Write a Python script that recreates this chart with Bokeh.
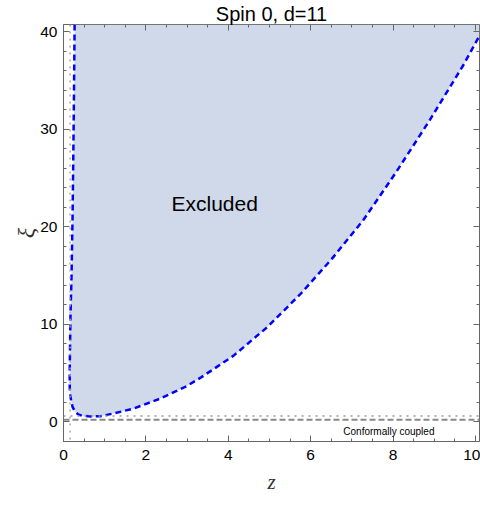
from bokeh.plotting import figure
from bokeh.models import (Range1d, LinearAxis, SingleIntervalTicker, Span, Label,
                          CustomJSTickFormatter)
from bokeh.embed import file_html
from bokeh.resources import INLINE

# ---------------- data ----------------
title_text = "Spin 0, d=11"
x_label = "z"
y_label = "ξ"
x_limits = [0.0, 10.1]
y_limits = [-2.0, 40.75]

# boundary of the excluded region (left branch top->bottom, then right branch)
boundary_z = [0.27, 0.255, 0.24, 0.22, 0.195, 0.17, 0.158, 0.15, 0.152, 0.165,
              0.19, 0.22, 0.28, 0.36, 0.45, 0.6, 0.75, 0.9, 1.2, 1.7, 2.35,
              3.0, 3.35, 3.76, 4.13, 4.94, 5.75, 6.51, 7.28, 8.09, 8.9, 9.71, 10.1]
boundary_xi = [40.75, 34.0, 28.0, 21.0, 15.0, 11.0, 7.5, 5.0, 3.5, 2.7,
               2.1, 1.55, 1.05, 0.78, 0.65, 0.58, 0.57, 0.6, 0.86, 1.37, 2.4,
               3.7, 4.6, 5.75, 6.8, 9.7, 13.1, 16.7, 20.7, 25.7, 31.0, 36.6, 39.6]

conformal_xi = 0.225
dotted_xi = 0.62
dotted_z = 0.16

excluded_text = "Excluded"
excluded_pos = [3.67, 22.4]
conformal_text = "Conformally coupled"
conformal_pos = [7.9, -1.0]

x_tick_interval = 2
x_minor = 4
y_tick_interval = 10
y_minor = 5

# ---------------- figure ----------------
p = figure(width=480, height=505,
           x_range=Range1d(*x_limits), y_range=Range1d(*y_limits),
           output_backend="svg", toolbar_location=None,
           min_border_left=63, min_border_right=1,
           min_border_top=0, min_border_bottom=64)
p.xgrid.visible = False
p.ygrid.visible = False
p.background_fill_color = "white"
p.border_fill_color = "white"
p.outline_line_color = "#666666"
p.outline_line_width = 1

p.title.text = title_text
p.title.align = "center"
p.title.text_font = "Liberation Sans"
p.title.text_font_size = "20px"
p.title.text_font_style = "normal"
p.title.text_color = "black"
p.title.standoff = 0

frame_col = "#666666"

def style_axis(ax, labels=True):
    ax.axis_line_color = frame_col
    ax.major_tick_line_color = frame_col
    ax.minor_tick_line_color = frame_col
    ax.major_tick_in = 6
    ax.major_tick_out = 0
    ax.minor_tick_in = 3
    ax.minor_tick_out = 0
    if labels:
        ax.major_label_text_font = "Liberation Sans"
        ax.major_label_text_font_size = "15.5px"
        ax.major_label_text_color = "black"
    else:
        ax.formatter = CustomJSTickFormatter(code="return ''")
        ax.major_label_text_font_size = "0px"
        ax.major_label_standoff = 0

xax = p.xaxis[0]
xax.ticker = SingleIntervalTicker(interval=x_tick_interval, num_minor_ticks=x_minor)
style_axis(xax)
xax.major_label_standoff = 8
xax.axis_label = x_label
xax.axis_label_text_font = "Liberation Serif"
xax.axis_label_text_font_style = "italic"
xax.axis_label_text_font_size = "21px"
xax.axis_label_text_color = "#333333"
xax.axis_label_standoff = 7

yax = p.yaxis[0]
yax.ticker = SingleIntervalTicker(interval=y_tick_interval, num_minor_ticks=y_minor)
style_axis(yax)
yax.major_label_standoff = 6
yax.axis_label = y_label
yax.axis_label_text_font = "Liberation Serif"
yax.axis_label_text_font_style = "italic"
yax.axis_label_text_font_size = "24px"
yax.axis_label_text_color = "#333333"
yax.axis_label_standoff = -2

# frame ticks on the top and right edges (drawn inside, taking no border space)
top_ax = LinearAxis(ticker=SingleIntervalTicker(interval=x_tick_interval, num_minor_ticks=x_minor),
                    fixed_location=y_limits[1])
style_axis(top_ax, labels=False)
p.add_layout(top_ax, "above")
right_ax = LinearAxis(ticker=SingleIntervalTicker(interval=y_tick_interval, num_minor_ticks=y_minor),
                      fixed_location=x_limits[1])
style_axis(right_ax, labels=False)
p.add_layout(right_ax, "right")

# excluded region fill (closed along the top of the plot range)
fill_x = boundary_z + [x_limits[1], boundary_z[0]]
fill_y = boundary_xi + [y_limits[1], y_limits[1]]
p.patch(fill_x, fill_y, fill_color="#cfd9ea", line_color=None)

# reference lines
p.add_layout(Span(location=dotted_z, dimension="height", line_color="#aaaaaa",
                  line_width=1.5, line_dash="2 5"))
p.add_layout(Span(location=dotted_xi, dimension="width", line_color="#999999",
                  line_width=1.5, line_dash="2 5"))
p.add_layout(Span(location=conformal_xi, dimension="width", line_color="#888888",
                  line_width=2, line_dash="6 3"))

# boundary curve
p.line(boundary_z, boundary_xi, line_color="#0000ff", line_width=2.5, line_dash="6 4")

# texts
p.add_layout(Label(x=excluded_pos[0], y=excluded_pos[1], text=excluded_text,
                   text_align="center", text_baseline="middle",
                   text_font="Liberation Sans", text_font_size="21px", text_color="black"))
p.add_layout(Label(x=conformal_pos[0], y=conformal_pos[1], text=conformal_text,
                   text_align="center", text_baseline="middle",
                   text_font="Liberation Sans", text_font_size="10px", text_color="black"))

open("out.html", "w").write(file_html(p, INLINE))
